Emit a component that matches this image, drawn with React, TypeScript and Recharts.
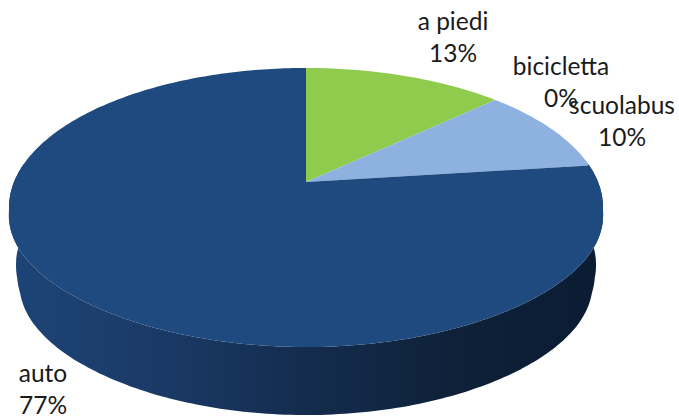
import { PieChart, Pie } from 'recharts'

const categories = ['a piedi', 'bicicletta', 'scuolabus', 'auto']
const shares = [13, 0, 10, 77]
const colors = ['#8fcb4c', '#a9bf5f', '#8eb2e0', '#1f4a7f']

const data = categories.map((name, i) => ({ name, value: shares[i], fill: colors[i] }))

// label centres (first line baseline), same order as categories
const labelSpots: Record<string, [number, number]> = {
  'a piedi': [453, 30],
  bicicletta: [561, 75],
  scuolabus: [622, 114],
  auto: [43, 382],
}

const CX = 306
const CY = 182
const RADIUS = 292
const DEPTH = 68

// tilt the flat pie: perspective so the apex sits above the ellipse centre
function project(cx: number, cy: number, r: number, angle: number) {
  const t = ((90 - angle) * Math.PI) / 180
  const u = Math.sin(t)
  const v = -Math.cos(t)
  const w = 1 - 0.1828 * v
  const bulge = v > 0.2 ? 1 + 0.014 * Math.sin((Math.PI * (v - 0.2)) / 0.8) : 1
  return { x: cx + (r * u * bulge) / w, y: (cy + 101.6 * v) / w, v }
}

function TiltedSector(props: any) {
  const { cx, cy, outerRadius, startAngle, endAngle, fill } = props
  const top: { x: number; y: number; v: number }[] = []
  const steps = Math.max(2, Math.ceil(Math.abs(endAngle - startAngle)))
  for (let i = 0; i <= steps; i++) {
    const a = startAngle + ((endAngle - startAngle) * i) / steps
    top.push(project(cx, cy, outerRadius, a))
  }
  // only the front of the rim is visible; it narrows a little towards the bottom
  const front = top.filter(p => p.v > -0.15)
  const rim = front
    .map(p => {
      const s = 0.965 + 0.03 * Math.min(1, Math.max(0, (0.3 - p.v) / 0.4))
      return { x: cx + (p.x - cx) * s, y: p.y + DEPTH }
    })
    .reverse()
  const toPath = (pts: { x: number; y: number }[]) =>
    pts.map(p => `${p.x.toFixed(1)},${p.y.toFixed(1)}`).join(' L')

  return (
    <g>
      {front.length > 1 && <path d={`M${toPath(front)} L${toPath(rim)} Z`} fill="url(#wall)" />}
      <path d={`M${cx},${cy} L${toPath(top)} Z`} fill={fill} />
    </g>
  )
}

function PieLabel(props: any) {
  const spot = labelSpots[props.name]
  return (
    <text textAnchor="middle" fontFamily="Lato, sans-serif" fontSize={24.5} fill="#1a1a1a">
      <tspan x={spot[0]} y={spot[1]}>{props.name}</tspan>
      <tspan x={spot[0]} dy={32}>{`${Math.round(props.percent * 100)}%`}</tspan>
    </text>
  )
}

export default function App() {
  return (
    <div style={{ position: 'absolute', left: 0, top: 0, width: 679, height: 416, background: '#fff', overflow: 'hidden' }}>
      <PieChart width={679} height={416} margin={{ top: 0, right: 0, bottom: 0, left: 0 }}>
        <defs>
          <linearGradient id="wall" gradientUnits="userSpaceOnUse" x1="10" y1="0" x2="600" y2="0">
            <stop offset="0" stopColor="#1d4477" />
            <stop offset="0.25" stopColor="#1a3a66" />
            <stop offset="0.5" stopColor="#142c4e" />
            <stop offset="0.75" stopColor="#0e2139" />
            <stop offset="1" stopColor="#0b1c33" />
          </linearGradient>
        </defs>
        <Pie
          data={data}
          dataKey="value"
          nameKey="name"
          cx={CX}
          cy={CY}
          innerRadius={0}
          outerRadius={RADIUS}
          startAngle={90}
          endAngle={-270}
          paddingAngle={0}
          stroke="none"
          shape={TiltedSector}
          label={PieLabel}
          labelLine={false}
          isAnimationActive={false}
        />
      </PieChart>
    </div>
  )
}
